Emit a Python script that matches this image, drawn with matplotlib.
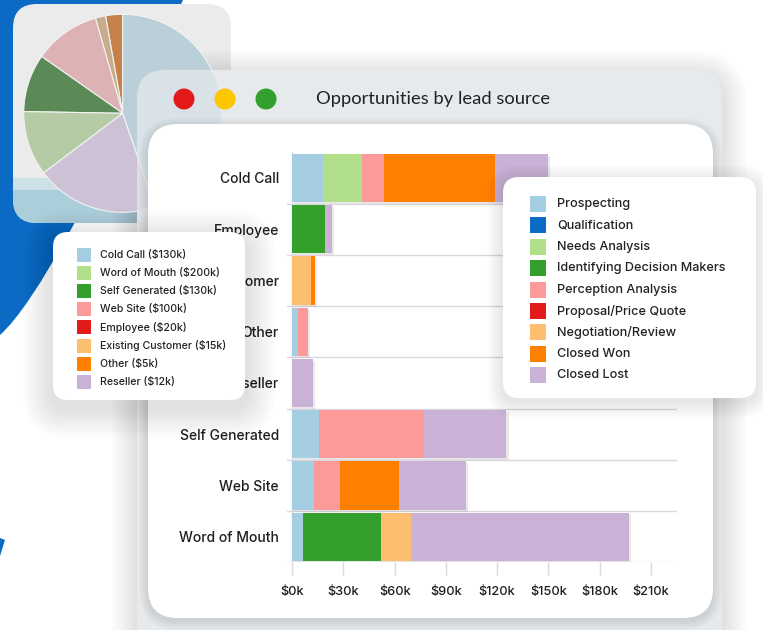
import numpy as np
import matplotlib
matplotlib.use('Agg')
import matplotlib.pyplot as plt
from matplotlib.patches import FancyBboxPatch, Circle, Rectangle, PathPatch
from matplotlib.path import Path
import matplotlib.patheffects as pe

# Данные: стадии сделок по источникам лидов (тыс. $)
categories = ['Cold Call', 'Employee', 'Existing Customer', 'Other', 'Reseller',
              'Self Generated', 'Web Site', 'Word of Mouth']
stages = ['Prospecting', 'Qualification', 'Needs Analysis', 'Identifying Decision Makers',
          'Perception Analysis', 'Proposal/Price Quote', 'Negotiation/Review',
          'Closed Won', 'Closed Lost']
prospecting = [18, 0, 0, 3.5, 0, 15.5, 13, 6]
qualification = [0, 0, 0, 0, 0, 0, 0, 0]
needs_analysis = [23, 0, 0, 0, 0, 0, 0, 0]
decision_makers = [0, 19, 0, 0, 0, 0, 0, 46]
perception = [13, 0, 0, 5.5, 0, 61.5, 15, 0]
proposal = [0, 0, 0, 0, 0, 0, 0, 0]
negotiation = [0, 0, 11, 0, 0, 0, 0, 17.5]
closed_won = [65, 0, 2.5, 0, 0, 0, 34.5, 0]
closed_lost = [31, 4, 0, 0, 12, 48.5, 39, 128]
stage_colors = ['#a6cee3', '#0a6cc4', '#b2df8a', '#33a02c', '#fb9a99',
                '#e31a1c', '#fdbf6f', '#ff7f00', '#cab2d6']
x_ticks = [0, 30, 60, 90, 120, 150, 180, 210]

# Круговая диаграмма (доли, считанные по углам секторов)
pie_values = [10, 6, 39, 34, 38, 72, 161]
pie_colors = ['#c4824a', '#c8ad8d', '#dcb2b4', '#5b8a57', '#b5cba6', '#cdc2d5', '#bacfd8']

lead_labels = ['Cold Call ($130k)', 'Word of Mouth ($200k)', 'Self Generated ($130k)',
               'Web Site ($100k)', 'Employee ($20k)', 'Existing Customer ($15k)',
               'Other ($5k)', 'Reseller ($12k)']
lead_colors = ['#a6cee3', '#b2df8a', '#33a02c', '#fb9a99', '#e31a1c', '#fdbf6f',
               '#ff7f00', '#cab2d6']

W, H = 763, 630
fig = plt.figure(figsize=(W / 100, H / 100), dpi=100)
fig.patch.set_facecolor('white')


def px_axes(z):
    ax = fig.add_axes([0, 0, 1, 1], zorder=z)
    ax.set_xlim(0, W)
    ax.set_ylim(H, 0)
    ax.axis('off')
    return ax


def rbox(ax, x, y, w, h, r, **kw):
    p = FancyBboxPatch((x, y), w, h, boxstyle=f"round,pad=0,rounding_size={r}", **kw)
    ax.add_patch(p)
    return p


def shadow(ax, x, y, w, h, r, n=8, spread=2.0, alpha=0.012, dy=4):
    for k in range(n, 0, -1):
        e = k * spread
        rbox(ax, x - e, y - e + dy, w + 2 * e, h + 2 * e, r + e,
             fc='k', ec='none', alpha=alpha)


# --- фон: синяя фигура и карточка с круговой диаграммой
bg = px_axes(0)
blue = Path([(0, 0), (183, 0), (52.5, 288.5), (0, 335), (0, 0)],
            [Path.MOVETO, Path.LINETO, Path.CURVE3, Path.CURVE3, Path.CLOSEPOLY])
bg.add_patch(PathPatch(blue, fc='#0b6bc4', ec='none'))
bg.add_patch(PathPatch(Path([(0, 538), (5, 540), (0, 556), (0, 538)]), fc='#0b6bc4', ec='none'))

card = rbox(bg, 13, 4, 218, 219, 24, fc='#ebebeb', ec='none')
b1 = Rectangle((0, 178), 240, 12, fc='#cde0e6', ec='none')
b2 = Rectangle((0, 190), 240, 40, fc='#aacfdb', ec='none')
for b in (b1, b2):
    bg.add_patch(b)
    b.set_clip_path(card)

shadow(bg, 137, 70, 585, 600, 28, n=10, spread=2.5, alpha=0.01, dy=6)
rbox(bg, 137, 70, 585, 600, 28, fc='#e6eaed', ec='none')

# --- круговая диаграмма
cx, cy, r = 122.7, 113.3, 99
lim = 1.02
half = r * lim
pie_ax = fig.add_axes([(cx - half) / W, 1 - (cy + half) / H, 2 * half / W, 2 * half / H], zorder=1)
pie_ax.pie(pie_values, colors=pie_colors, startangle=90, counterclock=True,
           wedgeprops=dict(edgecolor='#f3f3f3', linewidth=0.8))
pie_ax.set_xlim(-lim, lim)
pie_ax.set_ylim(-lim, lim)
pie_ax.set_aspect('equal')
pie_ax.axis('off')

# --- окно графика
mid = px_axes(2)
rbox(mid, 137, 70, 585, 600, 28, fc='#e6eaed', ec='none', alpha=0.72)
shadow(mid, 148, 124, 565, 494, 30, n=6, spread=1.5, alpha=0.015, dy=3)
rbox(mid, 148, 124, 565, 494, 30, fc='white', ec='none')
for xc, col in zip([184, 225, 266], ['#e3191c', '#fdc700', '#31a02d']):
    mid.add_patch(Circle((xc, 99), 10.5, fc=col, ec='none'))
mid.text(316, 99, 'Opportunities by lead source', ha='left', va='center',
         fontsize=13.2, color='#222222', family='Lato')

# --- столбчатая диаграмма
ax = fig.add_axes([287 / W, 1 - 562.3 / H, 390 / W, 410 / H], zorder=3)
ax.patch.set_alpha(0)
series = [prospecting, qualification, needs_analysis, decision_makers, perception,
          proposal, negotiation, closed_won, closed_lost]
y = np.arange(len(categories))
left = np.zeros(len(categories))
shade = [pe.SimplePatchShadow(offset=(1.5, -1.5), shadow_rgbFace='#888888', alpha=0.18), pe.Normal()]
for vals, col in zip(series, stage_colors):
    vals = np.array(vals, dtype=float)
    bars = ax.barh(y, vals, left=left, height=0.94, color=col, edgecolor='none', zorder=3)
    for b in bars:
        if b.get_width() > 0:
            b.set_path_effects(shade)
    left += vals

ax.set_ylim(len(categories) - 0.5, -0.5)
ax.set_xlim(-3.1, 225.4)
for yb in np.arange(0.5, len(categories), 1):
    ax.axhline(yb, color='#ddd6e0', lw=1, zorder=1)
ax.axvline(0, color='#ddd6e0', lw=1, zorder=1)
for s in ax.spines.values():
    s.set_visible(False)
ax.set_yticks(y)
ax.set_yticklabels(categories, fontsize=10, color='#1e1e1e', family='Inter', fontweight='medium')
ax.set_xticks(x_ticks)
ax.set_xticklabels([f'${v}k' for v in x_ticks], fontsize=9.2, color='#1e1e1e', family='Inter',
                   fontweight='medium')
ax.tick_params(axis='y', length=0, pad=5.8)
ax.tick_params(axis='x', length=9.4, width=1, color='#ddd6e0', pad=8)

# --- легенды
top = px_axes(4)
shadow(top, 53, 232, 192, 168, 15, n=10, spread=3, alpha=0.01, dy=8)
rbox(top, 53, 232, 192, 168, 15, fc='white', ec='none')
for i, (lab, col) in enumerate(zip(lead_labels, lead_colors)):
    yc = 255 + i * 18.1
    top.add_patch(Rectangle((77, yc - 7), 14, 14, fc=col, ec='none'))
    top.text(100, yc, lab, ha='left', va='center', fontsize=7.6, color='#222222', family='Inter',
             fontweight='medium')

shadow(top, 503, 177, 253, 221, 16, n=8, spread=2, alpha=0.012, dy=4)
rbox(top, 503, 177, 253, 221, 16, fc='white', ec='none')
for i, (lab, col) in enumerate(zip(stages, stage_colors)):
    yc = 204 + i * 21.4
    top.add_patch(Rectangle((530, yc - 8), 16, 16, fc=col, ec='none'))
    top.text(557, yc, lab, ha='left', va='center', fontsize=9.1, color='#222222', family='Inter',
             fontweight='medium')

plt.savefig('out.png', dpi=100)
